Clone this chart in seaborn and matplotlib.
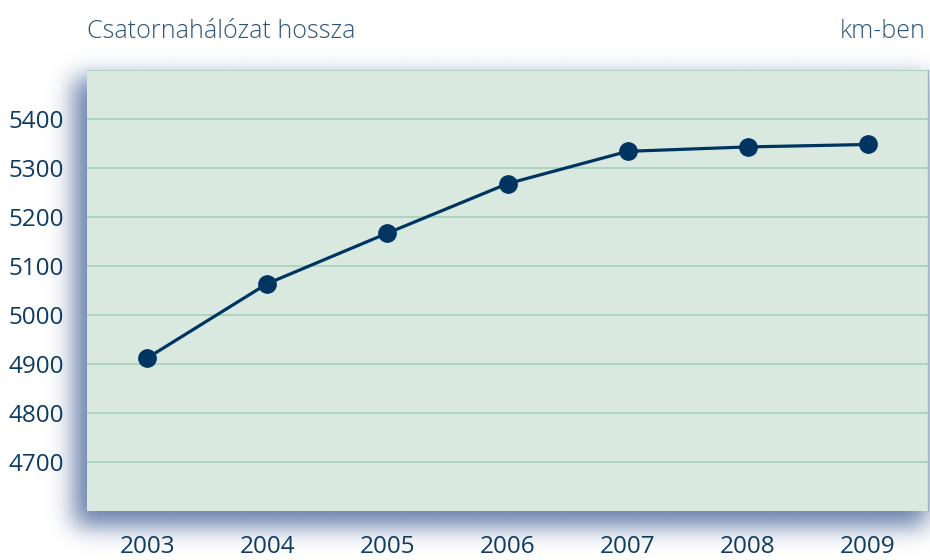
import numpy as np
import pandas as pd
import matplotlib
matplotlib.use("Agg")
import matplotlib.pyplot as plt
import seaborn as sns

years = [2003, 2004, 2005, 2006, 2007, 2008, 2009]
length_km = [4912, 5064, 5167, 5268, 5334, 5343, 5348]
yticks = [4700, 4800, 4900, 5000, 5100, 5200, 5300, 5400]
title_text = "Csatornahálózat hossza"
unit_text = "km-ben"

sns.set_theme(style="white")
plt.rcParams["font.family"] = ["Open Sans", "DejaVu Sans"]

W, H = 930, 560
fig = plt.figure(figsize=(W / 100, H / 100), dpi=100)
fig.patch.set_facecolor("white")

# panel geometry in pixels
px_l, px_r, px_t, px_b = 87, 928, 70, 511

# drop shadow background
bg = fig.add_axes([0, 0, 1, 1], zorder=0)
mask = np.zeros((H, W))
mask[78:526, 74:926] = 1.0
def blur1d(a, sigma, axis):
    r = int(3 * sigma)
    k = np.exp(-0.5 * (np.arange(-r, r + 1) / sigma) ** 2)
    k /= k.sum()
    return np.apply_along_axis(lambda v: np.convolve(np.pad(v, r, mode="edge"), k, mode="valid"), axis, a)
mask = blur1d(blur1d(mask, 12, 0), 12, 1)
rgba = np.zeros((H, W, 4))
rgba[..., 0] = 85 / 255
rgba[..., 1] = 112 / 255
rgba[..., 2] = 160 / 255
rgba[..., 3] = np.clip(mask * 0.9, 0, 1)
bg.imshow(rgba, extent=[0, W, H, 0], aspect="auto", interpolation="bilinear")
bg.set_xlim(0, W)
bg.set_ylim(H, 0)
bg.axis("off")

ax = fig.add_axes([px_l / W, 1 - px_b / H, (px_r - px_l) / W, (px_b - px_t) / H], zorder=1)
ax.set_facecolor("#d9e9e0")

df = pd.DataFrame({"year": years, "km": length_km})
sns.lineplot(data=df, x="year", y="km", ax=ax, color="#003562", linewidth=2.3,
             marker="o", markersize=13.5, markeredgewidth=0, zorder=3)

ax.set_xlim(years[0] - 0.5, years[-1] + 0.5)
ax.set_ylim(4600, 5500)
ax.set_yticks(yticks + [5500])
ax.set_yticklabels([str(v) for v in yticks] + [""])
ax.set_xticks(years)
ax.set_xticklabels([str(y) for y in years])
ax.grid(axis="y", color="#a9d2be", linewidth=1.3)
ax.grid(axis="x", visible=False)
ax.set_axisbelow(True)
for s in ["left", "bottom", "top"]:
    ax.spines[s].set_visible(False)
ax.spines["right"].set_color("#9fb3c8")
ax.spines["right"].set_linewidth(1)
ax.tick_params(axis="y", length=0, pad=16.5, labelsize=17.5, labelcolor="#0d3b63")
ax.tick_params(axis="x", length=0, pad=17, labelsize=17.5, labelcolor="#0d3b63")
ax.set_xlabel("")
ax.set_ylabel("")

fig.text(px_l / W, 1 - 38 / H, title_text, ha="left", va="baseline",
         fontsize=18, color="#2b5578", fontweight="light")
fig.text(926 / W, 1 - 38 / H, unit_text, ha="right", va="baseline",
         fontsize=18, color="#2b5578", fontweight="light")

fig.savefig("out.png", dpi=100, facecolor="white")
